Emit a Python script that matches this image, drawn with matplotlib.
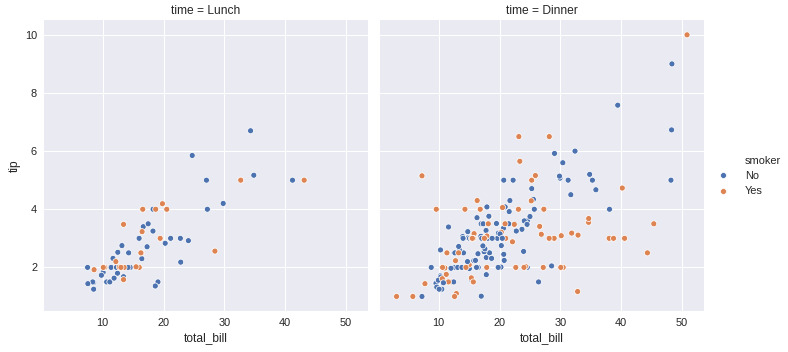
import matplotlib
matplotlib.use("Agg")
import matplotlib.pyplot as plt
from matplotlib.lines import Line2D

# tips data, split by meal time (order kept as in the dataset)
lunch_bill = [27.2, 22.76, 17.29, 19.44, 16.66, 10.07, 32.68, 15.98, 34.83, 13.03,
              18.28, 24.71, 21.16,
              10.65, 12.43, 24.08, 11.69, 13.42, 14.26, 15.95, 12.48, 29.8, 8.52,
              14.52, 11.38, 22.82, 19.08, 20.27, 11.17, 12.26, 18.26, 8.51, 10.33,
              14.15, 16.0, 13.16, 17.47, 34.3, 41.19, 27.05, 16.43, 8.35, 18.64,
              11.87, 9.78, 7.51,
              19.81, 28.44, 15.48, 16.58, 7.56, 10.34, 43.11, 13.0, 13.51, 18.71,
              12.74, 13.0, 16.4, 20.53, 16.47,
              12.16, 13.42, 8.58, 15.98, 13.42, 16.27, 10.09]
lunch_tip = [4.0, 3.0, 2.71, 3.0, 3.4, 1.83, 5.0, 2.03, 5.17, 2.0,
             4.0, 5.85, 3.0,
             1.5, 1.8, 2.92, 2.31, 1.68, 2.5, 2.0, 2.52, 4.2, 1.48,
             2.0, 2.0, 2.18, 1.5, 2.83, 1.5, 2.0, 3.25, 1.25, 2.0,
             2.0, 2.0, 2.75, 3.5, 6.7, 5.0, 5.0, 2.3, 1.5, 1.36,
             1.63, 1.73, 2.0,
             4.19, 2.56, 2.02, 4.0, 1.44, 2.0, 5.0, 2.0, 2.0, 4.0,
             2.01, 2.0, 2.5, 4.0, 3.23,
             2.2, 3.48, 1.92, 3.0, 1.58, 2.5, 2.0]
lunch_smoker = ["No", "No", "No", "Yes", "No", "No", "Yes", "No", "No", "No",
                "No", "No", "No",
                "No", "No", "No", "No", "No", "No", "No", "No", "No", "No",
                "No", "No", "No", "No", "No", "No", "No", "No", "No", "No",
                "No", "Yes", "No", "No", "No", "No", "No", "No", "No", "No",
                "No", "No", "No",
                "Yes", "Yes", "Yes", "Yes", "No", "Yes", "Yes", "Yes", "Yes", "Yes",
                "Yes", "Yes", "Yes", "Yes", "Yes",
                "Yes", "Yes", "Yes", "No", "Yes", "Yes", "Yes"]

dinner_bill = [16.99, 10.34, 21.01, 23.68, 24.59, 25.29, 8.77, 26.88, 15.04, 14.78,
               10.27, 35.26, 15.42, 18.43, 14.83, 21.58, 10.33, 16.29, 16.97, 20.65,
               17.92, 20.29, 15.77, 39.42, 19.82, 17.81, 13.37, 12.69, 21.7, 19.65,
               9.55, 18.35, 15.06, 20.69, 17.78, 24.06, 16.31, 16.93, 18.69, 31.27,
               16.04, 17.46, 13.94, 9.68, 30.4, 18.29, 22.23, 32.4, 28.55, 18.04,
               12.54, 10.29, 34.81, 9.94, 25.56, 19.49, 38.01, 26.41, 11.24, 48.27,
               20.29, 13.81, 11.02, 18.29, 17.59, 20.08, 16.45, 3.07, 20.23, 15.01,
               12.02, 17.07, 26.86, 25.28, 14.73, 10.51, 17.92,
               28.97, 22.49, 5.75, 16.32, 22.75, 40.17, 27.28, 12.03, 21.01, 12.46,
               11.35, 15.38,
               44.3, 22.42, 20.92, 15.36, 20.49, 25.21, 18.24, 14.31, 14.0, 7.25,
               38.07, 23.95, 25.71, 17.31, 29.93,
               14.07, 13.13, 17.26, 24.55, 19.77, 29.85, 48.17, 25.0, 13.39, 16.49,
               21.5, 12.66, 16.21, 13.81, 17.51, 24.52, 20.76, 31.71, 10.59, 10.63,
               50.81, 15.81, 7.25, 31.85, 16.82, 32.9, 17.89, 14.48, 9.6, 34.63,
               34.65, 23.33, 45.35, 23.17, 40.55, 20.69, 20.9, 30.46, 18.15, 23.1,
               15.69,
               26.59, 38.73, 24.27, 12.76, 30.06, 25.89, 48.33, 13.27, 28.17, 12.9,
               28.15, 11.59, 7.74, 30.14,
               20.45, 13.28, 22.12, 24.01, 15.69, 11.61, 10.77, 15.53, 10.07, 12.6,
               32.83, 35.83, 29.03, 27.18, 22.67, 17.82, 18.78]
dinner_tip = [1.01, 1.66, 3.5, 3.31, 3.61, 4.71, 2.0, 3.12, 1.96, 3.23,
              1.71, 5.0, 1.57, 3.0, 3.02, 3.92, 1.67, 3.71, 3.5, 3.35,
              4.08, 2.75, 2.23, 7.58, 3.18, 2.34, 2.0, 2.0, 4.3, 3.0,
              1.45, 2.5, 3.0, 2.45, 3.27, 3.6, 2.0, 3.07, 2.31, 5.0,
              2.24, 2.54, 3.06, 1.32, 5.6, 3.0, 5.0, 6.0, 2.05, 3.0,
              2.5, 2.6, 5.2, 1.56, 4.34, 3.51, 3.0, 1.5, 1.76, 6.73,
              3.21, 2.0, 1.98, 3.76, 2.64, 3.15, 2.47, 1.0, 2.01, 2.09,
              1.97, 3.0, 3.14, 5.0, 2.2, 1.25, 3.08,
              3.0, 3.5, 1.0, 4.3, 3.25, 4.73, 4.0, 1.5, 3.0, 1.5,
              2.5, 3.0,
              2.5, 3.48, 4.08, 1.64, 4.06, 4.29, 3.76, 4.0, 3.0, 1.0,
              4.0, 2.55, 4.0, 3.5, 5.07,
              2.5, 2.0, 2.74, 2.0, 2.0, 5.14, 5.0, 3.75, 2.61, 2.0,
              3.5, 2.5, 2.0, 2.0, 3.0, 3.48, 2.24, 4.5, 1.61, 2.0,
              10.0, 3.16, 5.15, 3.18, 4.0, 3.11, 2.0, 2.0, 4.0, 3.55,
              3.68, 5.65, 3.5, 6.5, 3.0, 5.0, 3.5, 2.0, 3.5, 4.0,
              1.5,
              3.41, 3.0, 2.03, 2.23, 2.0, 5.16, 9.0, 2.5, 6.5, 1.1,
              3.0, 1.5, 1.44, 3.09,
              3.0, 2.72, 2.88, 2.0, 3.0, 3.39, 1.47, 3.0, 1.25, 1.0,
              1.17, 4.67, 5.92, 2.0, 2.0, 1.75, 3.0]
dinner_smoker = ["No"] * 56 + ["Yes", "No", "Yes", "No",
                 "Yes", "Yes", "Yes", "Yes", "No", "No", "No", "Yes", "No", "Yes",
                 "No", "No", "Yes", "Yes", "No", "No", "Yes",
                 "Yes", "No", "Yes", "Yes", "No", "Yes", "Yes", "Yes", "Yes", "No",
                 "Yes", "Yes",
                 "Yes", "Yes", "No", "Yes", "Yes", "Yes", "No", "Yes", "No", "No",
                 "No", "No", "No", "No", "No",
                 "No", "No", "No", "No", "No", "No", "No", "No", "No", "No",
                 "No", "No", "No", "No", "Yes", "No", "No", "No", "Yes", "Yes",
                 "Yes", "Yes", "Yes", "Yes", "Yes", "Yes", "Yes", "Yes", "Yes", "Yes",
                 "Yes", "Yes", "Yes", "Yes", "Yes", "No", "Yes", "Yes", "Yes", "Yes",
                 "Yes",
                 "Yes", "Yes", "Yes", "Yes", "Yes", "Yes", "No", "Yes", "Yes", "Yes",
                 "Yes", "Yes", "Yes", "Yes",
                 "No", "No", "Yes", "Yes", "Yes", "No", "No", "Yes", "No", "Yes",
                 "Yes", "No", "No", "Yes", "Yes", "No", "No"]

panels = [("Lunch", lunch_bill, lunch_tip, lunch_smoker),
          ("Dinner", dinner_bill, dinner_tip, dinner_smoker)]
hue_colors = {"No": "#4C72B0", "Yes": "#DD8452"}

plt.rcParams["font.family"] = ["Liberation Sans", "DejaVu Sans"]
plt.rcParams["text.color"] = ".15"
plt.rcParams["axes.labelcolor"] = ".15"
plt.rcParams["xtick.color"] = ".15"
plt.rcParams["ytick.color"] = ".15"

fig = plt.figure(figsize=(788 / 72, 352 / 72), dpi=72)
W, H = 788, 352
ax_left = fig.add_axes([44 / W, 1 - 311 / H, 324 / W, 291 / H])
ax_right = fig.add_axes([380 / W, 1 - 311 / H, 324 / W, 291 / H], sharey=ax_left)

for ax, (name, bill, tip, smoker) in zip([ax_left, ax_right], panels):
    ax.set_facecolor("#EAEAF2")
    for s in ax.spines.values():
        s.set_visible(False)
    ax.grid(True, color="white", linewidth=1)
    ax.set_axisbelow(True)
    ax.scatter(bill, tip, c=[hue_colors[v] for v in smoker], s=36,
               edgecolors="white", linewidths=0.75, zorder=2)
    ax.set_xlim(0.35, 53.6)
    ax.set_ylim(0.5, 10.51)
    ax.set_xticks([10, 20, 30, 40, 50])
    ax.set_yticks([2, 4, 6, 8, 10])
    ax.tick_params(length=0, labelsize=11, pad=7)
    ax.set_xlabel("total_bill", fontsize=12)
    ax.set_title("time = " + name, fontsize=12, pad=6)

ax_left.set_ylabel("tip", fontsize=12)
ax_right.tick_params(labelleft=False)

# old-style seaborn legend: the hue name is an entry with an empty handle
handles = [Line2D([], [], linestyle="", marker="")]
handles += [Line2D([], [], marker="o", linestyle="", markersize=6,
                   markerfacecolor=hue_colors[k], markeredgecolor="white",
                   markeredgewidth=0.75) for k in ["No", "Yes"]]
fig.legend(handles, ["smoker", "No", "Yes"], loc="center left",
           bbox_to_anchor=(702 / W, 0.5), frameon=False, fontsize=11,
           handletextpad=1.0, labelspacing=0.5)

fig.savefig("out.png", dpi=72)
